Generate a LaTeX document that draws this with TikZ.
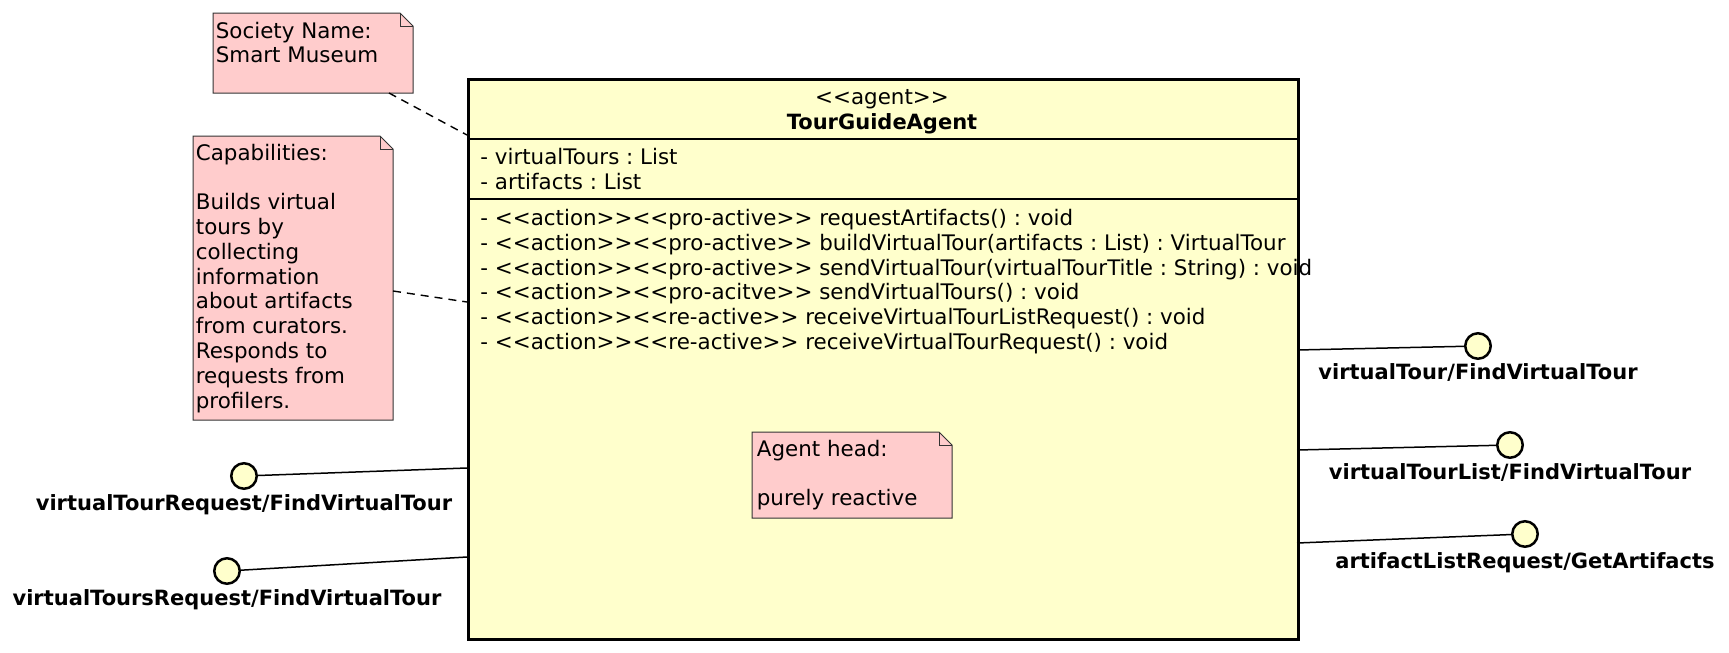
\documentclass[tikz,border=0pt]{standalone}
\usepackage{fontspec}
\newfontfamily\umlfont{DejaVu Sans}
\usepackage{tikz}
\usetikzlibrary{positioning}
\definecolor{classyellow}{RGB}{255,255,204}
\definecolor{notepink}{RGB}{255,204,204}
\frenchspacing
\tikzset{
  umltext/.style={font=\umlfont\fontsize{10.7}{12.4}\selectfont, inner sep=0pt},
  umlbold/.style={font=\umlfont\bfseries\fontsize{10.5}{12.4}\selectfont, inner sep=0pt},
  classbox/.style={draw, line width=1.5pt, fill=classyellow, anchor=north west, inner sep=0pt},
  notebox/.style={anchor=north west, inner sep=0pt, outer sep=0pt, minimum width=100pt},
  notetext/.style={umltext, align=left, anchor=north west},
  member/.style={umltext, anchor=base west},
  iface/.style={circle, draw, line width=1.25pt, fill=classyellow, minimum size=12.75pt, inner sep=0pt},
  iflabel/.style={umlbold, anchor=base},
  ifline/.style={line width=0.75pt},
  notelink/.style={line width=0.7pt, dash pattern=on 4pt off 3pt},
}
% note with folded corner, drawn on a named empty node
\newcommand\notefold[1]{%
  \filldraw[fill=notepink, draw=black!80, line width=0.5pt] (#1.north west) -- ([xshift=-6.5pt]#1.north east)
    -- ([yshift=-6.5pt]#1.north east) -- (#1.south east) -- (#1.south west) -- cycle;
  \draw[black!80, line width=0.5pt] ([xshift=-6.5pt]#1.north east) |- ([yshift=-6.5pt]#1.north east);}

\begin{document}
\begin{tikzpicture}[x=0.5pt,y=-0.5pt]
\useasboundingbox (0,0) rectangle (1729,653);
% agent class
\node[classbox, minimum width=415pt, minimum height=280pt] (agent) at (467,78) {};
\draw[line width=0.75pt] (467,139) -- (1297,139);
\draw[line width=0.75pt] (467,199) -- (1297,199);
\node[umltext, anchor=base] (stereo) at (882,104) {<<agent>>};
\node[umlbold, anchor=base] (agentname) at (882,129.5) {TourGuideAgent};
\foreach \a [count=\i] in {- virtualTours : List, - artifacts : List}
  \node[member] (attr\i) at (480,139.7+24.8*\i) {\a};
\foreach \m [count=\i] in {
  - <<action>><<pro-active>> requestArtifacts() : void,
  - <<action>><<pro-active>> buildVirtualTour(artifacts : List) : VirtualTour,
  - <<action>><<pro-active>> sendVirtualTour(virtualTourTitle : String) : void,
  - <<action>><<pro-acitve>> sendVirtualTours() : void,
  - <<action>><<re-active>> receiveVirtualTourListRequest() : void,
  - <<action>><<re-active>> receiveVirtualTourRequest() : void}
  \node[member] (meth\i) at (480,200.7+24.8*\i) {\m};

% notes
\node[notebox, minimum height=40pt] (society) at (213,13) {};
\notefold{society}
\node[notetext] (societytext) at (215.5,21.5) {Society Name:\\Smart Museum};
\node[notebox, minimum height=142pt] (caps) at (193,136) {};
\notefold{caps}
\node[notetext] (capstext) at (195.5,143.5) {Capabilities:\\\mbox{}\\Builds virtual\\tours by\\collecting\\information\\about artifacts\\from curators.\\Responds to\\requests from\\profilers.};
\node[notebox, minimum height=43pt] (head) at (752,432) {};
\notefold{head}
\node[notetext] (headtext) at (756.5,439.5) {Agent head:\\\mbox{}\\purely reactive};

\coordinate (psoc) at (467,135);
\coordinate (pcap) at (467,302);
\draw[notelink] ([xshift=-12pt]society.south east) -- (psoc);
\draw[notelink] ([yshift=-6.5pt]caps.east) -- (pcap);

% provided interfaces
\node[iface] (ifTour) at (1478,346) {};
\node[iface] (ifTourList) at (1510,445) {};
\node[iface] (ifArtList) at (1525,534) {};
\node[iface] (ifTourReq) at (244,476) {};
\node[iface] (ifToursReq) at (227,571) {};
\node[iflabel] (lblTour) at ([yshift=-16.8pt]ifTour.center) {virtualTour/FindVirtualTour};
\node[iflabel] (lblTourList) at ([yshift=-17.2pt]ifTourList.center) {virtualTourList/FindVirtualTour};
\node[iflabel] (lblArtList) at ([yshift=-17.2pt]ifArtList.center) {artifactListRequest/GetArtifacts};
\node[iflabel] (lblTourReq) at ([yshift=-17pt]ifTourReq.center) {virtualTourRequest/FindVirtualTour};
\node[iflabel] (lblToursReq) at ([yshift=-17pt]ifToursReq.center) {virtualToursRequest/FindVirtualTour};
\coordinate (pTour) at (1297,350);
\coordinate (pTourList) at (1297,450);
\coordinate (pArtList) at (1297,543);
\coordinate (pTourReq) at (467,468);
\coordinate (pToursReq) at (467,557);
\foreach \f in {Tour,TourList,ArtList,TourReq,ToursReq}
  \draw[ifline] (p\f) -- (if\f);
\end{tikzpicture}
\end{document}
